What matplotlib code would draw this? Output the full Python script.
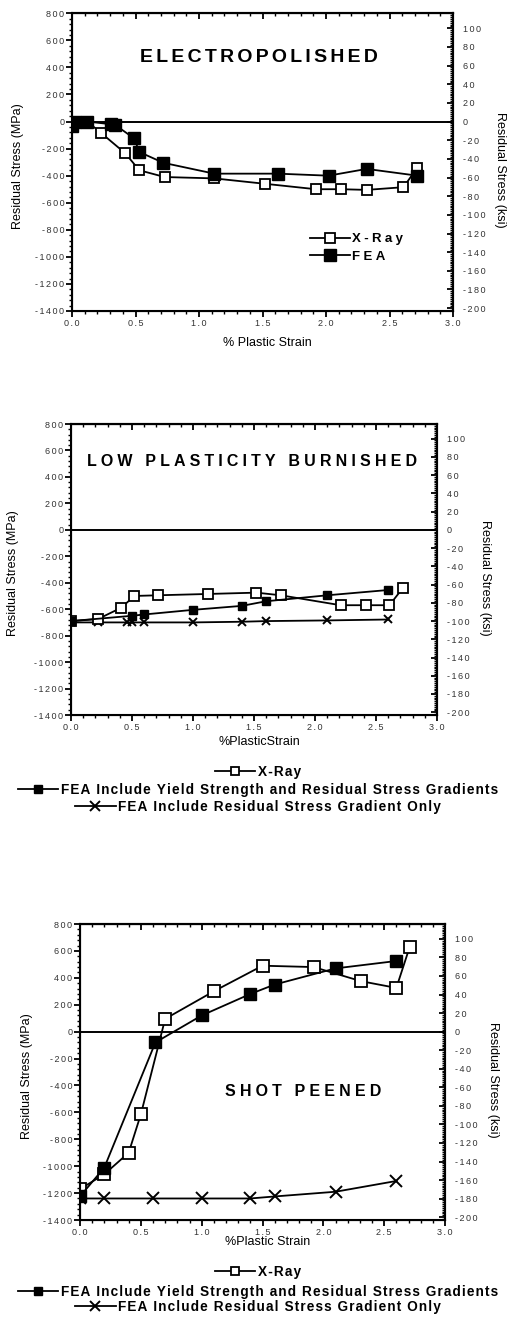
import numpy as np
import matplotlib
matplotlib.use('Agg')
import matplotlib.pyplot as plt
from matplotlib.ticker import MultipleLocator, FuncFormatter
from matplotlib.lines import Line2D

plt.rcParams['font.family'] = ['Liberation Sans', 'DejaVu Sans']

### DATA (% plastic strain, residual stress MPa)
### Electropolished
ep_xray_x = [0.0, 0.12, 0.23, 0.42, 0.53, 0.73, 1.12, 1.52, 1.92, 2.12, 2.32, 2.61, 2.72]
ep_xray_y = [0, 0, -85, -235, -360, -410, -420, -460, -500, -500, -505, -485, -340]
ep_fea_x = [0.0, 0.02, 0.12, 0.31, 0.34, 0.49, 0.53, 0.72, 1.12, 1.62, 2.02, 2.32, 2.72]
ep_fea_y = [-30, 0, 0, -20, -25, -125, -225, -305, -385, -385, -400, -350, -400]

### Low plasticity burnished
lpb_xray_x = [0.0, 0.22, 0.41, 0.52, 0.71, 1.12, 1.52, 1.72, 2.21, 2.42, 2.61, 2.72]
lpb_xray_y = [-690, -675, -590, -500, -495, -485, -475, -495, -570, -570, -570, -440]
lpb_fea_x = [0.0, 0.5, 0.6, 1.0, 1.4, 1.6, 2.1, 2.6]
lpb_fea_y = [-690, -650, -640, -605, -575, -540, -495, -455]
lpb_grad_x = [0.0, 0.22, 0.46, 0.5, 0.6, 1.0, 1.4, 1.6, 2.1, 2.6]
lpb_grad_y = [-700, -700, -700, -700, -700, -700, -695, -690, -685, -678]

### Shot peened
sp_xray_x = [0.0, 0.2, 0.4, 0.5, 0.7, 1.1, 1.5, 1.92, 2.31, 2.6, 2.71]
sp_xray_y = [-1170, -1060, -900, -615, 95, 300, 490, 480, 375, 325, 630]
sp_fea_x = [0.0, 0.2, 0.62, 1.0, 1.4, 1.6, 2.1, 2.6]
sp_fea_y = [-1225, -1010, -80, 120, 280, 350, 470, 525]
sp_grad_x = [0.0, 0.2, 0.6, 1.0, 1.4, 1.6, 2.1, 2.6]
sp_grad_y = [-1240, -1240, -1240, -1240, -1240, -1225, -1190, -1110]

MPA_PER_KSI = 6.895
W, H = 508, 1317

HS = '\u200a'
def spaced(s, n=1):
    return (HS * n).join(s)

def rect(l, r, t, b):
    return [l / W, 1 - b / H, (r - l) / W, (b - t) / H]

def fx(x):
    return x / W

def fy(y):
    return 1 - y / H

fig = plt.figure(figsize=(W / 100, H / 100), dpi=100)

tickcol = '#333333'

def make_panel(box, xlab_y, ylab_x, rlab_x, xlabel):
    ax = fig.add_axes(rect(*box))
    ax.set_xlim(0, 3)
    ax.set_ylim(-1400, 800)
    for sp in ax.spines.values():
        sp.set_linewidth(1.5)
    ax.axhline(0, color='black', lw=1.4, zorder=1)
    ax.xaxis.set_major_locator(MultipleLocator(0.5))
    ax.xaxis.set_minor_locator(MultipleLocator(0.1))
    ax.yaxis.set_major_locator(MultipleLocator(200))
    ax.yaxis.set_minor_locator(MultipleLocator(40))
    ax.xaxis.set_major_formatter(FuncFormatter(lambda v, p: spaced('%.1f' % v, 2)))
    ax.yaxis.set_major_formatter(FuncFormatter(lambda v, p: spaced('%d' % v, 2)))
    ax.tick_params(axis='both', which='major', direction='out', length=4, width=1.3,
                   labelsize=6.5, labelcolor=tickcol, pad=1.5)
    ax.tick_params(axis='both', which='minor', direction='out', length=2, width=1.0)
    top = ax.secondary_xaxis('top')
    top.xaxis.set_major_locator(MultipleLocator(0.5))
    top.xaxis.set_minor_locator(MultipleLocator(0.1))
    top.tick_params(which='major', direction='in', length=4, width=1.3, labeltop=False)
    top.tick_params(which='minor', direction='in', length=2, width=1.0)
    top.spines['top'].set_linewidth(1.5)

    rax = ax.twinx()
    rax.set_ylim(-1400 / MPA_PER_KSI, 800 / MPA_PER_KSI)
    rax.yaxis.set_major_locator(MultipleLocator(20))
    rax.yaxis.set_minor_locator(MultipleLocator(2))
    rax.yaxis.set_major_formatter(FuncFormatter(lambda v, p: spaced('%d' % v, 2)))
    rax.tick_params(which='major', direction='in', length=4, width=1.3,
                    labelsize=6.5, labelcolor=tickcol, pad=7)
    rax.tick_params(which='minor', direction='in', length=2, width=1.0)
    rax.spines['right'].set_linewidth(1.5)

    l, r, t, b = box
    fig.text(fx((l + r) / 2 + 5), fy(xlab_y), xlabel, fontsize=9, ha='center', va='center')
    fig.text(fx(ylab_x), fy((t + b) / 2 + 4), 'Residual Stress (MPa)', fontsize=9,
             rotation=90, ha='center', va='center')
    fig.text(fx(rlab_x), fy((t + b) / 2 + 8), 'Residual Stress (ksi)', fontsize=9,
             rotation=-90, ha='center', va='center')
    return ax

def open_sq(ms):
    return dict(marker='s', ms=ms, mfc='white', mec='black', mew=1.3, color='black', lw=1.3)

def fill_sq(ms):
    return dict(marker='s', ms=ms, mfc='black', mec='black', color='black', lw=1.3)

def cross(ms):
    return dict(marker='x', ms=ms, mew=1.4, color='black', lw=1.3)

### Panel 1 - Electropolished
ax1 = make_panel((72, 453, 13.3, 311), 343, 18, 500, '% Plastic Strain')
ax1.plot(ep_xray_x, ep_xray_y, **open_sq(7.5), zorder=3)
ax1.plot(ep_fea_x, ep_fea_y, **fill_sq(8.5), zorder=4)
fig.text(fx(259), fy(57), spaced('ELECTROPOLISHED', 2), fontsize=14, fontweight='bold',
         ha='center', va='center')
h1 = [Line2D([], [], **open_sq(7.5)), Line2D([], [], **fill_sq(8.5))]
ax1.legend(h1, [spaced('X-Ray', 3), spaced('FEA', 3)], loc='center left',
           bbox_to_anchor=(fx(310), fy(248)), bbox_transform=fig.transFigure,
           frameon=False, prop={'weight': 'bold', 'size': 9.5}, handlelength=3.0,
           handletextpad=0.2, labelspacing=0.4, borderpad=0, borderaxespad=0)

### Panel 2 - Low plasticity burnished
ax2 = make_panel((71, 437, 424, 715), 742, 13, 485, '%PlasticStrain')
ax2.plot(lpb_xray_x, lpb_xray_y, **open_sq(6.5), zorder=3)
ax2.plot(lpb_fea_x, lpb_fea_y, **fill_sq(6), zorder=4)
ax2.plot(lpb_grad_x, lpb_grad_y, **cross(6), zorder=2)
fig.text(fx(252.5), fy(461.7), spaced('LOW PLASTICITY BURNISHED', 3), fontsize=11.5,
         fontweight='bold', ha='center', va='center')

### Panel 3 - Shot peened
ax3 = make_panel((80, 445, 924, 1220), 1242, 27, 493, '%Plastic Strain')
ax3.plot(sp_xray_x, sp_xray_y, **open_sq(8), zorder=3)
ax3.plot(sp_fea_x, sp_fea_y, **fill_sq(8), zorder=4)
ax3.plot(sp_grad_x, sp_grad_y, **cross(8), zorder=2)
fig.text(fx(303), fy(1091.7), spaced('SHOT PEENED', 3), fontsize=11.5,
         fontweight='bold', ha='center', va='center')

### Bottom legends (one centred row each)
labels = ['X-Ray', 'FEA Include Yield Strength and Residual Stress Gradients',
          'FEA Include Residual Stress Gradient Only']
styles = [open_sq(5.5), fill_sq(5.5), cross(7)]
for rows_y in ([771.7, 790, 806.7], [1271.7, 1291.7, 1307]):
    for lab, st, yy in zip(labels, styles, rows_y):
        fig.legend([Line2D([], [], **st)], [spaced(lab, 1)], loc='center',
                   bbox_to_anchor=(fx(258), fy(yy)), frameon=False,
                   prop={'weight': 'bold', 'size': 9.8}, handlelength=3.0,
                   handletextpad=0.2, borderpad=0, borderaxespad=0)

fig.savefig('out.png', dpi=100)
